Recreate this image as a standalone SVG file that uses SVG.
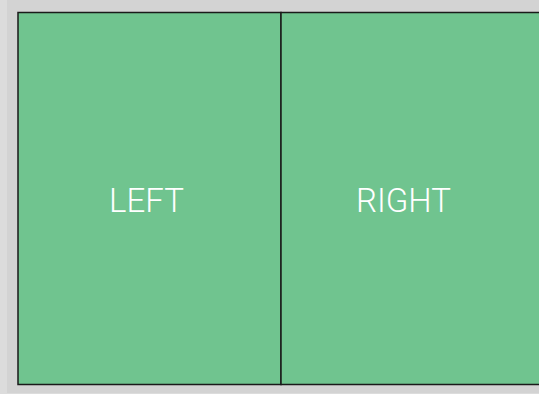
<svg xmlns="http://www.w3.org/2000/svg" width="539" height="394" viewBox="0 0 539 394">
<style>
.box{fill:#70c48f;stroke:#1a1a1a;stroke-width:1.5}
.lbl{font-family:Roboto,"Liberation Sans",sans-serif;font-weight:300;font-size:33px;fill:#ffffff;text-anchor:middle}
</style>
<rect x="0" y="0" width="539" height="394" fill="#dcdcdc"/>
<rect x="7" y="0" width="532" height="393" fill="#d3d3d3"/>
<g id="left">
<rect class="box" x="18" y="12.5" width="263" height="372"/>
<text class="lbl" x="146.5" y="212">LEFT</text>
</g>
<g id="right">
<rect class="box" x="281" y="12.5" width="270" height="372"/>
<text class="lbl" x="403.5" y="212">RIGHT</text>
</g>
<g id="connectors"></g>
</svg>
